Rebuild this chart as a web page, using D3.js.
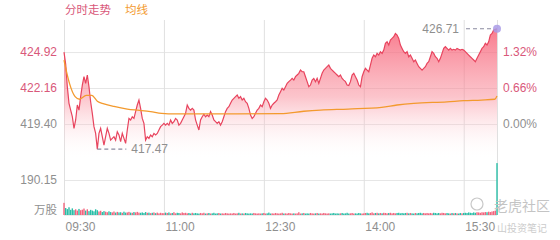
<!DOCTYPE html>
<html>
<head>
<meta charset="utf-8">
<script src="https://cdn.jsdelivr.net/npm/d3@7/dist/d3.min.js"></script>
<style>
  body { margin: 0; background: #fff; }
  svg text { font-family: "Liberation Sans", "Noto Sans CJK SC", sans-serif; }
  .cn { font-family: "Noto Sans CJK SC", sans-serif !important; }
</style>
</head>
<body>
<div id="chart"></div>
<script>
// intraday data, one point every 1.5 min from 09:30 to 16:00
const prevClose = 419.40
const stepMin = 1.5
const prices = [
  424.92, 424.0, 422.26, 420.99, 420.47, 419.96, 419.07, 419.71, 420.86, 420.47, 421.50, 422.39, 423.03, 422.52, 423.16, 422.26, 421.11, 420.22, 419.20, 418.68,
  417.47, 418.68, 419.07, 418.43, 417.79, 418.43, 419.07, 418.68, 418.17, 418.30, 418.43, 418.17, 418.81, 418.56, 418.05, 418.68, 418.30, 417.92, 418.94, 419.83,
  419.71, 419.96, 419.83, 420.35, 420.86, 421.24, 420.60, 419.83, 419.45, 418.17, 418.43, 418.30, 418.56, 418.43, 418.68, 418.56, 418.68, 418.94, 419.20, 419.32,
  419.45, 419.32, 419.45, 419.32, 419.71, 419.45, 419.58, 419.83, 419.71, 419.32, 419.45, 419.71, 419.96, 420.22, 420.86, 420.60, 420.47, 420.60, 420.47, 419.71,
  419.32, 418.94, 419.71, 419.96, 420.15, 419.96, 420.09, 419.96, 420.35, 420.09, 419.71, 419.58, 419.45, 419.58, 419.32, 419.58, 419.96, 420.35, 420.60, 420.73,
  420.99, 421.24, 421.37, 421.50, 421.62, 421.37, 421.50, 421.24, 421.37, 421.11, 420.99, 420.60, 420.09, 419.83, 419.96, 420.22, 420.47, 420.60, 420.86, 420.73,
  421.11, 421.37, 421.24, 420.99, 420.60, 420.86, 420.99, 421.11, 421.24, 421.62, 421.88, 422.14, 422.01, 422.26, 422.52, 422.65, 422.77, 422.90, 422.77, 423.03,
  423.16, 423.29, 423.54, 423.41, 423.41, 423.03, 422.65, 422.26, 422.39, 422.77, 422.90, 422.65, 422.90, 422.52, 422.90, 423.29, 423.54, 423.67, 423.80, 423.92,
  423.67, 423.54, 423.41, 423.29, 423.16, 423.03, 423.16, 422.90, 422.77, 422.65, 422.39, 422.35, 422.65, 423.16, 423.29, 423.03, 422.77, 422.39, 422.26, 423.03,
  423.41, 423.67, 423.54, 423.41, 423.92, 424.44, 424.69, 424.56, 424.82, 424.69, 424.95, 424.82, 425.07, 425.59, 425.71, 425.46, 425.84, 425.97, 426.10, 426.35,
  426.23, 425.97, 425.46, 425.20, 424.95, 424.82, 424.95, 424.56, 424.69, 424.44, 424.18, 424.31, 424.05, 423.80, 423.67, 423.54, 423.67, 423.80, 424.05, 424.18,
  424.56, 424.95, 424.82, 424.56, 424.44, 424.18, 424.44, 424.82, 425.20, 425.33, 425.20, 425.07, 425.20, 425.07, 425.13, 425.07, 425.20, 425.13, 425.07, 425.13,
  425.07, 424.95, 424.82, 424.69, 424.56, 424.44, 424.31, 424.18, 424.44, 424.69, 424.95, 425.20, 425.33, 425.59, 425.46, 425.71, 426.23, 426.35, 426.61, 426.66, 426.71
]
const avgMinutes = [0, 1, 5, 10, 14, 20, 25, 30, 36, 45, 57, 68, 78, 88, 100, 130, 195, 216, 231, 256, 286, 300, 315, 345, 360, 376, 388, 390]
const avgPrices = [424.3, 423.9, 422.5, 421.5, 421.3, 421.6, 421.6, 421.15, 420.95, 420.75, 420.55, 420.45, 420.35, 420.22, 420.18, 420.18, 420.2, 420.38, 420.47, 420.55, 420.68, 420.86, 420.99, 421.1, 421.19, 421.24, 421.3, 421.55]
const volumes = [
  66, 38, 32, 42, 28, 36, 26, 31, 24, 33, 26, 29, 35, 24, 31, 21, 28, 24, 20, 31,
  26, 19, 23, 16, 21, 18, 15, 20, 16, 14, 19, 13, 17, 14, 15, 12, 18, 13, 14, 17,
  13, 12, 16, 14, 17, 13, 12, 14, 11, 16, 12, 13, 10, 12, 14, 10, 13, 9, 12, 10,
  10, 13, 11, 14, 9, 11, 15, 9, 12, 11, 9, 14, 11, 12, 9, 11, 8, 12, 9, 11,
  9, 8, 11, 9, 12, 8, 9, 11, 8, 9, 12, 8, 9, 11, 8, 9, 8, 11, 9, 8,
  9, 8, 11, 8, 9, 12, 8, 9, 8, 11, 9, 8, 9, 8, 11, 9, 8, 9, 8, 9,
  11, 8, 9, 13, 8, 9, 8, 11, 9, 8, 9, 12, 8, 9, 8, 11, 9, 8, 9, 8,
  9, 15, 8, 9, 11, 8, 9, 8, 11, 9, 8, 9, 11, 8, 9, 8, 11, 9, 8, 9,
  8, 9, 11, 8, 9, 8, 9, 11, 8, 9, 12, 8, 9, 11, 8, 9, 8, 11, 9, 8,
  9, 11, 12, 9, 11, 14, 9, 11, 12, 9, 11, 9, 12, 11, 9, 11, 12, 9, 11, 9,
  11, 12, 9, 11, 9, 11, 12, 9, 11, 9, 8, 11, 9, 11, 12, 9, 11, 9, 11, 9,
  11, 9, 12, 11, 9, 11, 9, 12, 11, 9, 11, 9, 8, 11, 9, 11, 9, 8, 11, 9,
  11, 12, 11, 14, 12, 11, 14, 12, 15, 14, 12, 15, 14, 16, 15, 18, 16, 19, 21, 24, 282
]
const priceTicks = [419.40, 422.16, 424.92]
const pctLabels = ["0.00%", "0.66%", "1.32%"]
const volTick = 190.15
const timeTicks = [0, 90, 180, 270, 360]
const timeLabels = ["09:30", "11:00", "12:30", "14:00", "15:30"]

const W = 560, H = 240
const left = 64, right = 497
const red = "#e8445e", redText = "#d9587a", grayText = "#8f8f8f", teal = "#2bbfa8", orange = "#f39a2e"

const svg = d3.select("#chart").append("svg").attr("width", W).attr("height", H)

const x = d3.scaleLinear().domain([0, 390]).range([left, right])
const y = d3.scaleLinear().domain([416.64, 427.38]).range([160, 20])
const yv = d3.scaleLinear().domain([0, volTick]).range([215, 180])

const pts = prices.map((p, i) => ({ t: i * stepMin, p: p, v: volumes[i], up: i === 0 ? p >= prevClose : p >= prices[i - 1] }))

// gradient for area
const grad = svg.append("defs").append("linearGradient")
  .attr("id", "fillGrad").attr("gradientUnits", "userSpaceOnUse")
  .attr("x1", 0).attr("x2", 0).attr("y1", 20).attr("y2", 160)
grad.append("stop").attr("offset", 0).attr("stop-color", "#f6566e").attr("stop-opacity", 0.85)
grad.append("stop").attr("offset", 0.55).attr("stop-color", "#f98a98").attr("stop-opacity", 0.5)
grad.append("stop").attr("offset", 1).attr("stop-color", "#ffffff").attr("stop-opacity", 0)

// grids
svg.append("g").attr("transform", `translate(${left},0)`)
  .call(d3.axisLeft(y).tickValues(priceTicks).tickSize(-(right - left)).tickFormat(""))
  .call(g => g.select(".domain").remove())
  .selectAll("line").attr("stroke", "#e6e6e6")
svg.append("g").attr("transform", `translate(${left},0)`)
  .call(d3.axisLeft(yv).tickValues([volTick]).tickSize(-(right - left)).tickFormat(""))
  .call(g => g.select(".domain").remove())
  .selectAll("line").attr("stroke", "#e6e6e6")
svg.append("g").attr("transform", "translate(0,20)")
  .call(d3.axisBottom(x).tickValues(timeTicks.concat([390])).tickSize(195).tickFormat(""))
  .call(g => g.select(".domain").remove())
  .selectAll("line").attr("stroke", "#e0e0e0")

// price area + line
svg.append("path").datum(pts)
  .attr("d", d3.area().x(d => x(d.t)).y0(160).y1(d => y(d.p)))
  .attr("fill", "url(#fillGrad)")
svg.append("path").datum(pts)
  .attr("d", d3.line().x(d => x(d.t)).y(d => y(d.p)))
  .attr("fill", "none").attr("stroke", red).attr("stroke-width", 1.2)

// average line
svg.append("path").datum(avgMinutes.map((m, i) => [m, avgPrices[i]]))
  .attr("d", d3.line().x(d => x(d[0])).y(d => y(d[1])).curve(d3.curveMonotoneX))
  .attr("fill", "none").attr("stroke", orange).attr("stroke-width", 1.3)

// volume
svg.append("line").attr("x1", left).attr("x2", right).attr("y1", yv(0)).attr("y2", yv(0)).attr("stroke", "#d8d8d8")
svg.selectAll("rect.vol").data(pts).enter().append("rect")
  .attr("class", "vol")
  .attr("x", d => x(d.t) - 0.7)
  .attr("width", 1.4)
  .attr("y", d => yv(d.v))
  .attr("height", d => yv(0) - yv(d.v))
  .attr("fill", (d, i) => i === pts.length - 1 ? teal : (d.up ? "#f2657e" : teal))

// left axis labels
svg.append("g").attr("transform", `translate(${left},0)`)
  .call(d3.axisLeft(y).tickValues(priceTicks).tickSize(0).tickPadding(7).tickFormat(d3.format(".2f")))
  .call(g => g.select(".domain").remove())
  .selectAll("text").attr("font-size", 12).attr("fill", d => d > prevClose ? redText : grayText)
svg.append("g").attr("transform", `translate(${left},0)`)
  .call(d3.axisLeft(yv).tickValues([volTick]).tickSize(0).tickPadding(7).tickFormat(d3.format(".2f")))
  .call(g => g.select(".domain").remove())
  .selectAll("text").attr("font-size", 12).attr("fill", grayText)
svg.append("text").attr("class", "cn").attr("x", left - 7).attr("y", 210).attr("dy", "0.35em")
  .attr("text-anchor", "end").attr("font-size", 11.5).attr("fill", grayText).text("万股")

// right axis
svg.append("g").attr("transform", `translate(${right},0)`)
  .call(d3.axisRight(y).tickValues(priceTicks).tickSize(0).tickPadding(6).tickFormat((d, i) => pctLabels[i]))
  .call(g => g.select(".domain").remove())
  .selectAll("text").attr("font-size", 12).attr("fill", d => d > prevClose ? redText : grayText)

// time axis
svg.append("g").attr("transform", `translate(0,${yv(0)})`)
  .call(d3.axisBottom(x).tickValues(timeTicks).tickSize(0).tickPadding(7).tickFormat((d, i) => timeLabels[i]))
  .call(g => g.select(".domain").remove())
  .selectAll("text").attr("font-size", 12).attr("fill", grayText).attr("text-anchor", "start").attr("dx", 1)

// min / max markers
const lo = pts.reduce((a, b) => b.p < a.p ? b : a)
const hi = pts.reduce((a, b) => b.p > a.p ? b : a)
svg.append("line").attr("x1", x(lo.t)).attr("x2", x(lo.t) + 29).attr("y1", y(lo.p)).attr("y2", y(lo.p))
  .attr("stroke", "#8a8aa0").attr("stroke-width", 1.2).attr("stroke-dasharray", "4,3")
svg.append("text").attr("x", x(lo.t) + 34).attr("y", y(lo.p)).attr("dy", "0.35em")
  .attr("font-size", 12).attr("fill", grayText).text(lo.p.toFixed(2))
svg.append("line").attr("x1", x(hi.t) - 31).attr("x2", x(hi.t) - 3).attr("y1", y(hi.p)).attr("y2", y(hi.p))
  .attr("stroke", "#8a8aa0").attr("stroke-width", 1.2).attr("stroke-dasharray", "4,3")
svg.append("text").attr("x", x(hi.t) - 38).attr("y", y(hi.p)).attr("dy", "0.35em").attr("text-anchor", "end")
  .attr("font-size", 12).attr("fill", grayText).text(hi.p.toFixed(2))
svg.append("circle").attr("cx", x(hi.t)).attr("cy", y(hi.p)).attr("r", 4).attr("fill", "#a99be6").attr("opacity", 0.85)

// legend
svg.append("text").attr("class", "cn").attr("x", left + 1).attr("y", 10).attr("dy", "0.35em")
  .attr("font-size", 11.5).attr("fill", redText).text("分时走势")
svg.append("text").attr("class", "cn").attr("x", 125).attr("y", 10).attr("dy", "0.35em")
  .attr("font-size", 11.5).attr("fill", orange).text("均线")

// watermark
svg.append("circle").attr("cx", 477).attr("cy", 204).attr("r", 6).attr("fill", "none").attr("stroke", "#c8c8c8").attr("stroke-width", 1.2)
svg.append("text").attr("class", "cn").attr("x", 494).attr("y", 206).attr("dy", "0.35em")
  .attr("font-size", 14).attr("fill", "#c4c4c4").text("老虎社区")
svg.append("text").attr("class", "cn").attr("x", 497).attr("y", 228).attr("dy", "0.35em")
  .attr("font-size", 10).attr("fill", "#cccccc").text("山投资笔记")
</script>
</body>
</html>
